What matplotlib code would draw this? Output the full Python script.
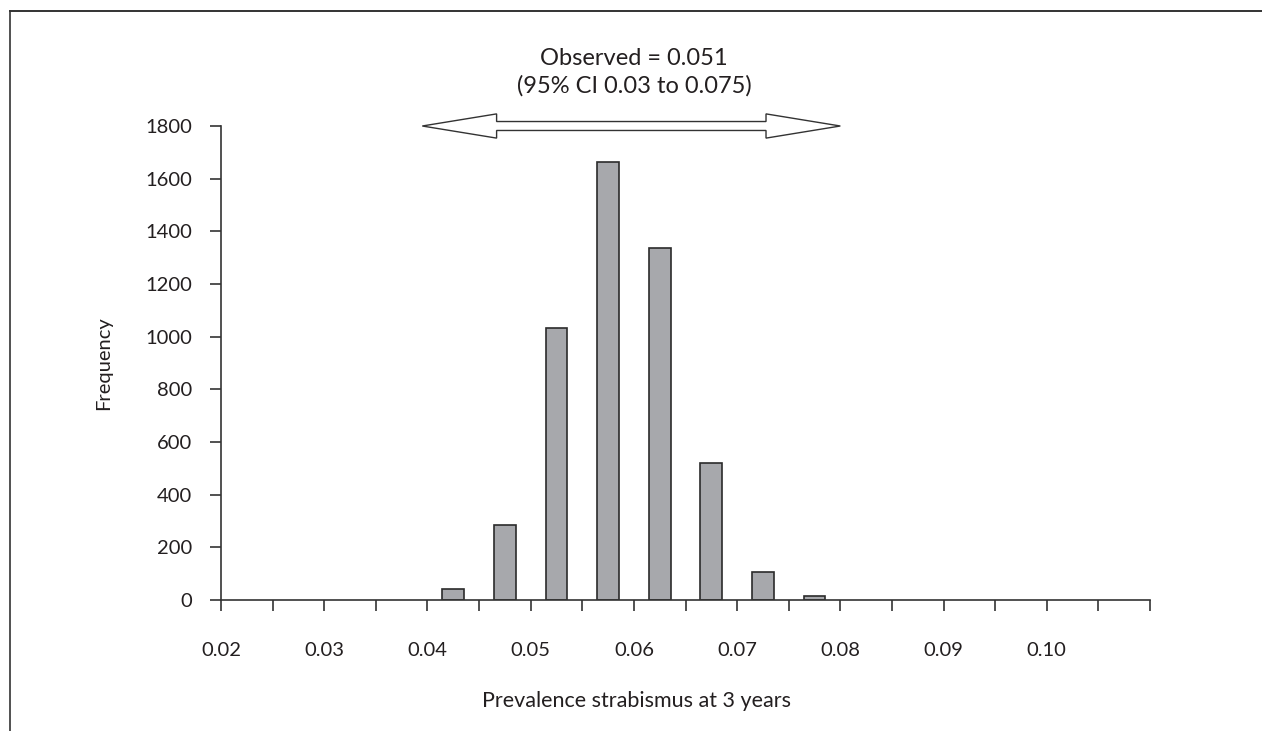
import numpy as np
import matplotlib.pyplot as plt
from matplotlib.patches import Polygon
from matplotlib.lines import Line2D

plt.rcParams['font.family'] = ['Lato', 'DejaVu Sans']

# Data
bin_centres = [0.0425, 0.0475, 0.0525, 0.0575, 0.0625, 0.0675, 0.0725, 0.0775]
frequency = [40, 283, 1033, 1665, 1336, 520, 108, 14]
y_ticks = [0, 200, 400, 600, 800, 1000, 1200, 1400, 1600, 1800]
x_ticks = [0.02, 0.025, 0.03, 0.035, 0.04, 0.045, 0.05, 0.055, 0.06, 0.065,
           0.07, 0.075, 0.08, 0.085, 0.09, 0.095, 0.10, 0.105, 0.11]
x_labels = ['0.02', '', '0.03', '', '0.04', '', '0.05', '', '0.06', '',
            '0.07', '', '0.08', '', '0.09', '', '0.10', '', '']
arrow_ends = [0.0395, 0.080]
observed_text = ['Observed = 0.051', '(95% CI 0.03 to 0.075)']

ink = '#231f20'
fig = plt.figure(figsize=(12.62, 7.31), dpi=100)
ax = fig.add_axes([221 / 1262, 1 - 600 / 731, (1150 - 221) / 1262, (600 - 126) / 731])

ax.bar(bin_centres, frequency, width=0.0021, color='#a7a8ac', edgecolor='#2b2b2b', linewidth=1.2)

ax.set_xlim(0.02, 0.11)
ax.set_ylim(0, 1800)
ax.set_xticks(x_ticks)
ax.set_xticklabels(x_labels)
ax.set_yticks(y_ticks)
for s in ['top', 'right']:
    ax.spines[s].set_visible(False)
for s in ['left', 'bottom']:
    ax.spines[s].set_color('#333333')
    ax.spines[s].set_linewidth(1.2)
ax.tick_params(axis='x', direction='out', length=8, width=1.2, color='#333333',
               pad=22, labelsize=14.5, labelcolor=ink)
ax.tick_params(axis='y', direction='out', length=8, width=1.2, color='#333333',
               pad=13, labelsize=14.5, labelcolor=ink)

ax.set_xlabel('Prevalence strabismus at 3 years', fontsize=15.5, color=ink)
ax.xaxis.set_label_coords((637 - 221) / (1150 - 221), -0.193)
ax.set_ylabel('Frequency', fontsize=14.5, color=ink, labelpad=24)

# hollow double-headed arrow
x0, x1 = arrow_ends
yc = 1800
hl = 0.0072
hh = 46
sh = 17
pts = [(x0, yc), (x0 + hl, yc + hh), (x0 + hl, yc + sh), (x1 - hl, yc + sh),
       (x1 - hl, yc + hh), (x1, yc), (x1 - hl, yc - hh), (x1 - hl, yc - sh),
       (x0 + hl, yc - sh), (x0 + hl, yc - hh)]
ax.add_patch(Polygon(pts, closed=True, facecolor='white', edgecolor='#333333',
                     linewidth=1.0, clip_on=False, zorder=5))

ax.text(0.06, 2057, observed_text[0], ha='center', va='center', fontsize=17, color=ink, clip_on=False)
ax.text(0.06, 1951, observed_text[1], ha='center', va='center', fontsize=17, color=ink, clip_on=False)

# figure frame (left and top edges)
fig.add_artist(Line2D([9.5 / 1262, 9.5 / 1262], [0, 1 - 10.5 / 731], transform=fig.transFigure,
                      color='#333333', linewidth=1.2))
fig.add_artist(Line2D([9.5 / 1262, 1], [1 - 10.5 / 731, 1 - 10.5 / 731], transform=fig.transFigure,
                      color='#333333', linewidth=1.4))

fig.savefig('out.png', dpi=100)
